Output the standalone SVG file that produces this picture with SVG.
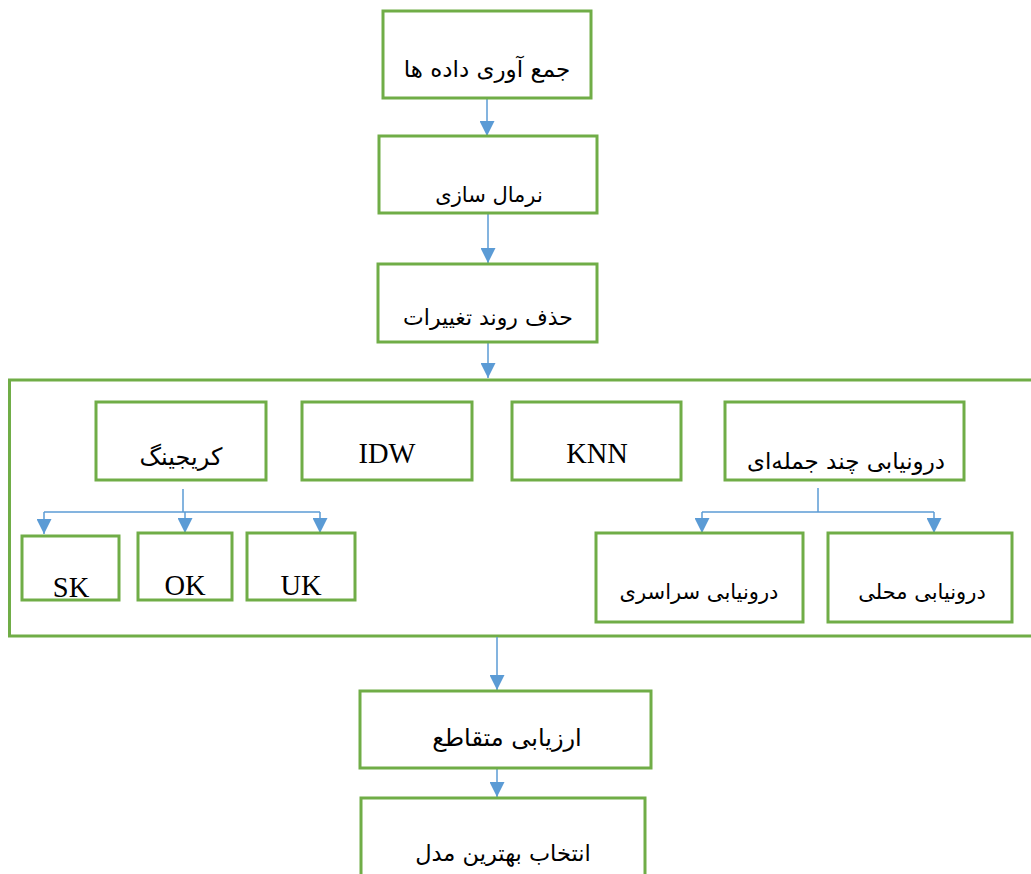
<svg xmlns="http://www.w3.org/2000/svg" width="1031" height="874" viewBox="0 0 1031 874">
<style>
.box{fill:#fff;stroke:#70AD47;stroke-width:3}
.cont{fill:none;stroke:#70AD47;stroke-width:3}
.fa{font-family:"DejaVu Sans","Noto Sans",sans-serif;font-size:22px;fill:#000;text-anchor:middle;direction:rtl}
.en{font-family:"Liberation Serif","Times New Roman",serif;font-size:28.5px;fill:#000;text-anchor:middle}
.ln{fill:none;stroke:#5B9BD5;stroke-width:1.5}
</style>
<defs>
<marker id="ah" viewBox="0 0 16 16" refX="16" refY="8" markerWidth="15" markerHeight="15" markerUnits="userSpaceOnUse" orient="auto">
<path d="M0,0 L16,8 L0,16 z" fill="#5B9BD5"/>
</marker>
</defs>
<rect width="1031" height="874" fill="#fff"/>
<g id="container"><rect class="cont" x="9.5" y="380" width="1040" height="256"/></g>
<g id="connectors">
<line class="ln" x1="487" y1="98" x2="487" y2="136" marker-end="url(#ah)"/>
<line class="ln" x1="488" y1="213" x2="488" y2="263" marker-end="url(#ah)"/>
<line class="ln" x1="488" y1="342" x2="488" y2="378" marker-end="url(#ah)"/>
<polyline class="ln" points="183,489 183,512"/>
<polyline class="ln" points="44,512 320,512"/>
<line class="ln" x1="44" y1="512" x2="44" y2="534" marker-end="url(#ah)"/>
<line class="ln" x1="185" y1="512" x2="185" y2="533" marker-end="url(#ah)"/>
<line class="ln" x1="320" y1="512" x2="320" y2="533" marker-end="url(#ah)"/>
<polyline class="ln" points="818,488 818,512"/>
<polyline class="ln" points="702,512 934,512"/>
<line class="ln" x1="702" y1="512" x2="702" y2="533" marker-end="url(#ah)"/>
<line class="ln" x1="934" y1="512" x2="934" y2="533" marker-end="url(#ah)"/>
<line class="ln" x1="497" y1="637" x2="497" y2="690" marker-end="url(#ah)"/>
<line class="ln" x1="497" y1="768" x2="497" y2="797" marker-end="url(#ah)"/>
</g>
<g id="n1"><rect class="box" x="383" y="11" width="208" height="87"/><text class="fa" x="487" y="77" style="font-size:23px">جمع آوری داده ها</text></g>
<g id="n2"><rect class="box" x="379" y="136" width="218" height="77"/><text class="fa" x="489" y="202" style="font-size:21px">نرمال سازی</text></g>
<g id="n3"><rect class="box" x="378" y="264" width="219" height="78"/><text class="fa" x="488" y="325">حذف روند تغییرات</text></g>
<g id="n4"><rect class="box" x="96" y="402" width="170" height="78"/><text class="fa" x="181" y="465" style="font-size:24px">کریجینگ</text></g>
<g id="n5"><rect class="box" x="302" y="402" width="170" height="78"/><text class="en" x="387" y="463">IDW</text></g>
<g id="n6"><rect class="box" x="512" y="402" width="169" height="78"/><text class="en" x="597" y="463">KNN</text></g>
<g id="n7"><rect class="box" x="725" y="402" width="239" height="78"/><text class="fa" x="846" y="469" style="font-size:23px">درونیابی چند جمله‌ای</text></g>
<g id="n8"><rect class="box" x="22" y="536" width="97" height="64"/><text class="en" x="71" y="597">SK</text></g>
<g id="n9"><rect class="box" x="138" y="533" width="94" height="67"/><text class="en" x="185" y="595">OK</text></g>
<g id="n10"><rect class="box" x="247" y="533" width="108" height="67"/><text class="en" x="301" y="595">UK</text></g>
<g id="n11"><rect class="box" x="596" y="533" width="207" height="89"/><text class="fa" x="699" y="599" style="font-size:21px">درونیابی سراسری</text></g>
<g id="n12"><rect class="box" x="828" y="533" width="184" height="89"/><text class="fa" x="922" y="599" style="font-size:21px">درونیابی محلی</text></g>
<g id="n13"><rect class="box" x="360" y="691" width="291" height="77"/><text class="fa" x="507" y="746" style="font-size:24px">ارزیابی متقاطع</text></g>
<g id="n14"><rect class="box" x="361" y="798" width="284" height="100"/><text class="fa" x="503" y="861" style="font-size:22.5px">انتخاب بهترین مدل</text></g>
</svg>
